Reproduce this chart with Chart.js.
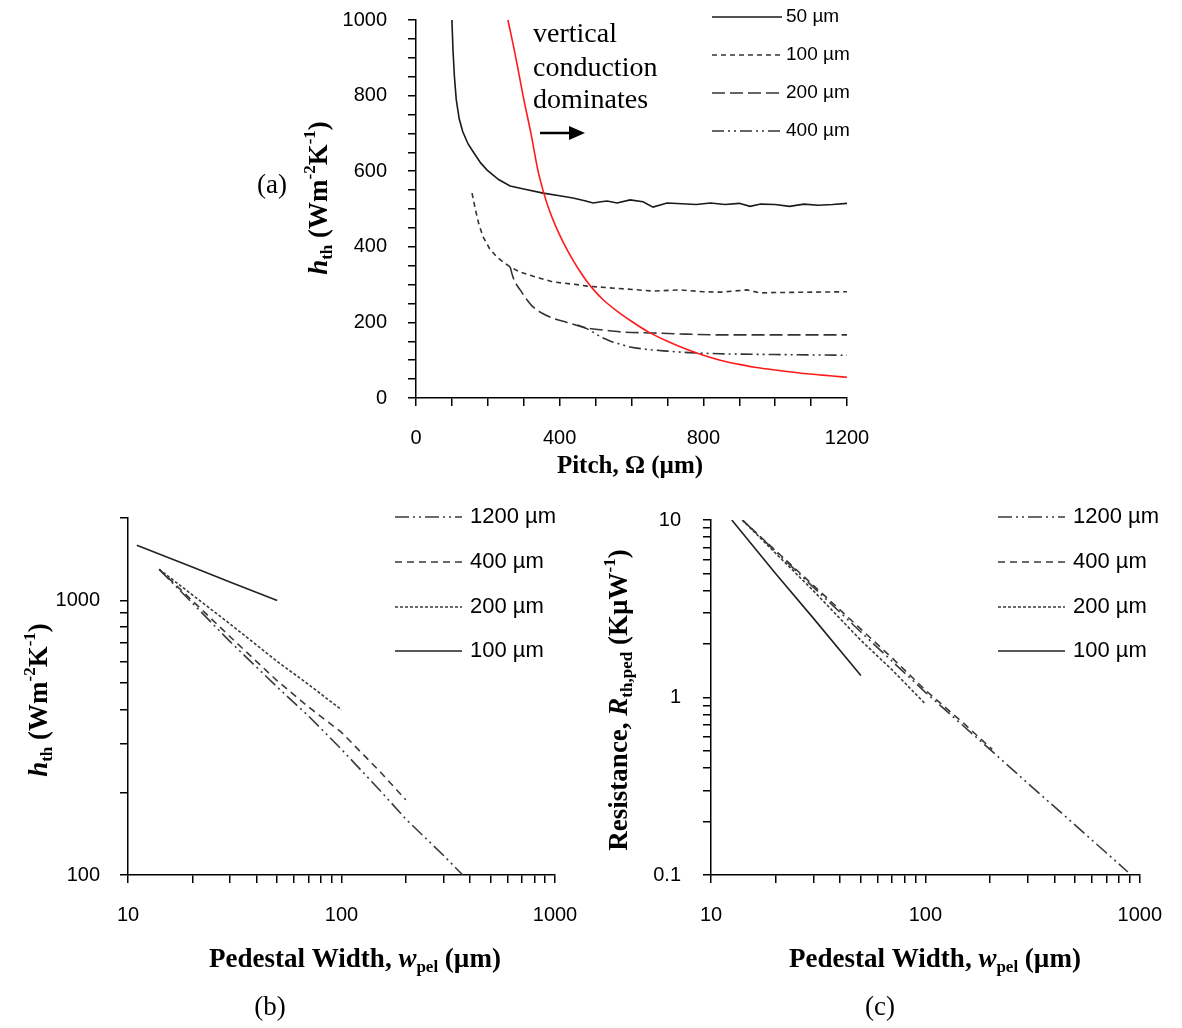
<!DOCTYPE html>
<html>
<head>
<meta charset="utf-8">
<script src="https://cdn.jsdelivr.net/npm/chart.js@4.4.1/dist/chart.umd.min.js"></script>
<style>
    html, body { margin: 0; padding: 0; background: #fff; }
    #wrap { position: relative; width: 1182px; height: 1028px; overflow: hidden; }
    canvas { position: absolute; left: 0; top: 0; }
</style>
</head>
<body>
<div id="wrap">
    <canvas id="chartA" width="1182" height="1028"></canvas>
    <canvas id="chartB" width="1182" height="1028"></canvas>
    <canvas id="chartC" width="1182" height="1028"></canvas>
</div>
<script>
// (a) h_th against pitch, one curve per pedestal width
const pitch50 = [100, 103, 107, 112, 120, 130, 145, 160, 180, 198, 230, 262, 300, 354, 400, 437, 470, 493, 515, 532, 560, 596, 632, 660, 699, 740, 780, 820, 860, 900, 930, 960, 1000, 1040, 1080, 1120, 1160, 1200];
const h50 = [1000, 920, 850, 790, 740, 705, 672, 650, 622, 603, 578, 561, 553, 542, 535, 529, 522, 516, 519, 521, 516, 524, 519, 505, 516, 514, 512, 516, 512, 515, 507, 513, 512, 507, 513, 510, 512, 515];

const pitch100 = [156, 165, 175, 187, 205, 225, 245, 262, 290, 345, 382, 457, 476, 560, 660, 735, 800, 847, 921, 958, 1000, 1100, 1200];
const h100 = [542, 500, 460, 426, 395, 373, 358, 347, 333, 317, 307, 299, 296, 290, 283, 286, 281, 280, 286, 278, 279, 280, 281];

const pitch200 = [262, 270, 280, 290, 305, 326, 350, 382, 420, 476, 520, 568, 660, 750, 847, 1000, 1200];
const h200 = [347, 320, 300, 286, 265, 241, 225, 211, 200, 185, 180, 175, 172, 169, 167, 167, 167];

const pitch400 = [450, 470, 490, 512, 540, 570, 596, 640, 700, 760, 847, 1000, 1200];
const h400 = [193, 186, 176, 163, 151, 142, 135, 129, 124, 120, 117, 115, 113];

// red line: vertical conduction limit
const pitchVert = [256, 278, 298, 320, 340, 354, 370, 390, 410, 437, 460, 476, 493, 521, 568, 600, 643, 700, 755, 800, 847, 900, 939, 1000, 1033, 1080, 1125, 1160, 1200];
const hVert = [1000, 900, 800, 700, 600, 548, 500, 452, 412, 365, 330, 308, 288, 260, 224, 203, 177, 150, 128, 113, 100, 89, 82, 74, 70, 65, 61, 58, 55];

// (b) h_th against pedestal width, one curve per pitch
const wB1200 = [14, 20, 30, 50, 70, 100, 150, 200, 300, 370];
const hB1200 = [1300, 980, 710, 484, 380, 287, 205, 160, 118, 100];
const wB400 = [14, 20, 30, 50, 70, 100, 150, 200];
const hB400 = [1300, 1000, 740, 510, 410, 331, 240, 188];
const wB200 = [14, 20, 30, 50, 70, 100];
const hB200 = [1300, 1050, 823, 600, 495, 400];
const wB100 = [11, 20, 30, 50];
const hB100 = [1590, 1325, 1170, 1000];

// (c) pedestal resistance against pedestal width
const wC1200 = [14, 20, 30, 50, 70, 100, 200, 300, 500, 700, 880];
const rC1200 = [10, 6.66, 4.19, 2.34, 1.6, 1.07, 0.51, 0.329, 0.191, 0.133, 0.104];
const wC400 = [14, 20, 30, 50, 70, 100, 150, 205];
const rC400 = [10, 6.73, 4.29, 2.43, 1.67, 1.1, 0.72, 0.51];
const wC200 = [14, 20, 30, 50, 70, 100];
const rC200 = [10, 6.5, 4.0, 2.1, 1.43, 0.92];
const wC100 = [12.5, 20, 30, 50];
const rC100 = [10, 5.0, 2.8, 1.33];

const serif = "'Liberation Serif', 'Times New Roman', serif";
const sans = "'Liberation Sans', Arial, sans-serif";

function pts(xs, ys) {
    return xs.map((x, i) => ({ x: x, y: ys[i] }));
}

function line(label, xs, ys, dash, color, extra) {
    return Object.assign({
        label: label,
        data: pts(xs, ys),
        borderColor: color,
        borderWidth: 1.6,
        borderDash: dash,
        pointRadius: 0,
        fill: false,
        tension: 0
    }, extra || {});
}

// draws one line of text with italic / sub / sup runs, centred or left aligned
function drawRich(ctx, t) {
    ctx.save();
    ctx.translate(t.x, t.y);
    if (t.rotate) ctx.rotate(-Math.PI / 2);
    let total = 0;
    const runs = t.parts.map(p => {
        const small = p.sub || p.sup;
        const s = small ? Math.round(t.size * 0.62) : t.size;
        const font = (p.i ? 'italic ' : '') + (t.bold ? 'bold ' : '') + s + 'px ' + serif;
        ctx.font = font;
        const w = ctx.measureText(p.t).width;
        total += w;
        return { text: p.t, font: font, w: w, dy: p.sub ? t.size * 0.3 : (p.sup ? -t.size * 0.36 : 0) };
    });
    let cx = t.align === 'left' ? 0 : -total / 2;
    ctx.fillStyle = '#000';
    ctx.textBaseline = 'middle';
    ctx.textAlign = 'left';
    runs.forEach(r => {
        ctx.font = r.font;
        ctx.fillText(r.text, cx, r.dy);
        cx += r.w;
    });
    ctx.restore();
}

const sketchPlugin = {
    id: 'sketch',
    afterDraw(chart, args, opts) {
        const ctx = chart.ctx;
        const lg = opts.legend;
        if (lg) {
            let k = 0;
            chart.data.datasets.forEach(ds => {
                if (!ds.label) return;
                const y = lg.ys[k++];
                ctx.save();
                ctx.strokeStyle = ds.borderColor;
                ctx.lineWidth = ds.borderWidth;
                ctx.setLineDash(ds.borderDash || []);
                ctx.beginPath();
                ctx.moveTo(lg.x0, y);
                ctx.lineTo(lg.x1, y);
                ctx.stroke();
                ctx.setLineDash([]);
                ctx.fillStyle = '#000';
                ctx.font = lg.size + 'px ' + sans;
                ctx.textBaseline = 'middle';
                ctx.textAlign = 'left';
                ctx.fillText(ds.label, lg.tx, y);
                ctx.restore();
            });
        }
        (opts.texts || []).forEach(t => drawRich(ctx, t));
        const a = opts.arrow;
        if (a) {
            ctx.save();
            ctx.strokeStyle = '#000';
            ctx.fillStyle = '#000';
            ctx.lineWidth = 2.5;
            ctx.beginPath();
            ctx.moveTo(a.x0, a.y);
            ctx.lineTo(a.x1 - 12, a.y);
            ctx.stroke();
            ctx.beginPath();
            ctx.moveTo(a.x1, a.y);
            ctx.lineTo(a.x1 - 16, a.y - 7);
            ctx.lineTo(a.x1 - 16, a.y + 7);
            ctx.closePath();
            ctx.fill();
            ctx.restore();
        }
    }
};

const axisGrid = { drawOnChartArea: false, tickLength: 8, color: '#000', lineWidth: 1.5 };
const axisBorder = { color: '#000', width: 1.5 };

function decadeLabel(v) {
    const l = Math.log10(v);
    return Math.abs(l - Math.round(l)) < 1e-6 ? String(+v.toPrecision(3)) : '';
}

// keep only 1..9 x 10^k ticks on log axes
function wholeLogTicks(scale) {
    scale.ticks = scale.ticks.filter(t => {
        const m = t.value / Math.pow(10, Math.floor(Math.log10(t.value) + 1e-9));
        return Math.abs(m - Math.round(m)) < 1e-6;
    });
}

// fixed axis width; label overflow must not push the plot area down
function fixWidth(w) {
    return s => {
        s.width = w;
        s.paddingTop = 0;
        s.paddingBottom = 0;
    };
}

const hTitle = [{ t: 'h', i: true }, { t: 'th', sub: true }, { t: ' (Wm' }, { t: '-2', sup: true }, { t: 'K' }, { t: '-1', sup: true }, { t: ')' }];
const wTitle = [{ t: 'Pedestal Width, ' }, { t: 'w', i: true }, { t: 'pel', sub: true }, { t: ' (µm)' }];
const rTitle = [{ t: 'Resistance, ' }, { t: 'R', i: true }, { t: 'th,ped', sub: true }, { t: ' (KµW' }, { t: '-1', sup: true }, { t: ')' }];

// ---------- (a) ----------
new Chart(document.getElementById('chartA'), {
    type: 'line',
    data: {
        datasets: [
            line('50 µm', pitch50, h50, [], '#1a1a1a'),
            line('100 µm', pitch100, h100, [5, 4], '#333'),
            line('200 µm', pitch200, h200, [13, 5], '#333', { cubicInterpolationMode: 'monotone' }),
            line('400 µm', pitch400, h400, [12, 4, 2, 4, 2, 4], '#333', { cubicInterpolationMode: 'monotone' }),
            line('', pitchVert, hVert, [], '#ff1a1a', { order: -1, cubicInterpolationMode: 'monotone' })
        ]
    },
    options: {
        responsive: false,
        animation: false,
        events: [],
        layout: { padding: { left: 0, top: 20, right: 335, bottom: 570 } },
        plugins: {
            legend: { display: false },
            tooltip: { enabled: false },
            sketch: {
                legend: { x0: 712, x1: 782, tx: 786, ys: [17, 55, 93, 131], size: 19 },
                texts: [
                    { parts: hTitle, x: 320, y: 198, size: 27, bold: true, rotate: true },
                    { parts: [{ t: 'Pitch, Ω (µm)' }], x: 630, y: 467, size: 25, bold: true },
                    { parts: [{ t: '(a)' }], x: 272, y: 186, size: 27 },
                    { parts: [{ t: 'vertical' }], x: 533, y: 35, size: 28, align: 'left' },
                    { parts: [{ t: 'conduction' }], x: 533, y: 69, size: 28, align: 'left' },
                    { parts: [{ t: 'dominates' }], x: 533, y: 101, size: 28, align: 'left' }
                ],
                arrow: { x0: 540, x1: 585, y: 133 }
            }
        },
        scales: {
            x: {
                type: 'linear', min: 0, max: 1200,
                afterFit: s => { s.height = 60; },
                ticks: {
                    stepSize: 100, autoSkip: false, maxRotation: 0, padding: 20, color: '#000',
                    font: { family: sans, size: 20 },
                    callback: v => (v % 400 === 0 ? v : '')
                },
                grid: axisGrid, border: axisBorder
            },
            y: {
                type: 'linear', min: 0, max: 1000,
                afterFit: fixWidth(416),
                ticks: {
                    stepSize: 50, autoSkip: false, padding: 21, color: '#000',
                    font: { family: sans, size: 20 },
                    callback: v => (v % 200 === 0 ? v : '')
                },
                grid: axisGrid, border: axisBorder
            }
        }
    },
    plugins: [sketchPlugin]
});

// ---------- (b) ----------
new Chart(document.getElementById('chartB'), {
    type: 'line',
    data: {
        datasets: [
            line('1200 µm', wB1200, hB1200, [14, 4, 2, 4, 2, 4], '#3a3a3a'),
            line('400 µm', wB400, hB400, [7, 5], '#3a3a3a'),
            line('200 µm', wB200, hB200, [3, 2], '#3a3a3a'),
            line('100 µm', wB100, hB100, [], '#222')
        ]
    },
    options: {
        responsive: false,
        animation: false,
        events: [],
        layout: { padding: { left: 0, top: 518, right: 627, bottom: 93 } },
        plugins: {
            legend: { display: false },
            tooltip: { enabled: false },
            sketch: {
                legend: { x0: 395, x1: 462, tx: 470, ys: [517, 562, 607, 651], size: 22 },
                texts: [
                    { parts: hTitle, x: 40, y: 700, size: 27, bold: true, rotate: true },
                    { parts: wTitle, x: 355, y: 960, size: 27, bold: true },
                    { parts: [{ t: '(b)' }], x: 270, y: 1008, size: 27 }
                ]
            }
        },
        scales: {
            x: {
                type: 'logarithmic', min: 10, max: 1000,
                afterFit: s => { s.height = 60; },
                afterBuildTicks: wholeLogTicks,
                ticks: { autoSkip: false, maxRotation: 0, padding: 20, color: '#000', font: { family: sans, size: 20 }, callback: decadeLabel },
                grid: axisGrid, border: axisBorder
            },
            y: {
                type: 'logarithmic', min: 100, max: 2000,
                afterFit: fixWidth(128),
                afterBuildTicks: wholeLogTicks,
                ticks: { autoSkip: false, padding: 20, color: '#000', font: { family: sans, size: 20 }, callback: decadeLabel },
                grid: axisGrid, border: axisBorder
            }
        }
    },
    plugins: [sketchPlugin]
});

// ---------- (c) ----------
new Chart(document.getElementById('chartC'), {
    type: 'line',
    data: {
        datasets: [
            line('1200 µm', wC1200, rC1200, [14, 4, 2, 4, 2, 4], '#3a3a3a'),
            line('400 µm', wC400, rC400, [7, 5], '#3a3a3a'),
            line('200 µm', wC200, rC200, [3, 2], '#3a3a3a'),
            line('100 µm', wC100, rC100, [], '#222')
        ]
    },
    options: {
        responsive: false,
        animation: false,
        events: [],
        layout: { padding: { left: 0, top: 520, right: 27, bottom: 93 } },
        plugins: {
            legend: { display: false },
            tooltip: { enabled: false },
            sketch: {
                legend: { x0: 998, x1: 1065, tx: 1073, ys: [517, 562, 607, 651], size: 22 },
                texts: [
                    { parts: rTitle, x: 620, y: 700, size: 27, bold: true, rotate: true },
                    { parts: wTitle, x: 935, y: 960, size: 27, bold: true },
                    { parts: [{ t: '(c)' }], x: 880, y: 1008, size: 27 }
                ]
            }
        },
        scales: {
            x: {
                type: 'logarithmic', min: 10, max: 1000,
                afterFit: s => { s.height = 60; },
                afterBuildTicks: wholeLogTicks,
                ticks: { autoSkip: false, maxRotation: 0, padding: 20, color: '#000', font: { family: sans, size: 20 }, callback: decadeLabel },
                grid: axisGrid, border: axisBorder
            },
            y: {
                type: 'logarithmic', min: 0.1, max: 10,
                afterFit: fixWidth(711),
                afterBuildTicks: wholeLogTicks,
                ticks: { autoSkip: false, padding: 22, color: '#000', font: { family: sans, size: 20 }, callback: decadeLabel },
                grid: axisGrid, border: axisBorder
            }
        }
    },
    plugins: [sketchPlugin]
});
</script>
</body>
</html>
